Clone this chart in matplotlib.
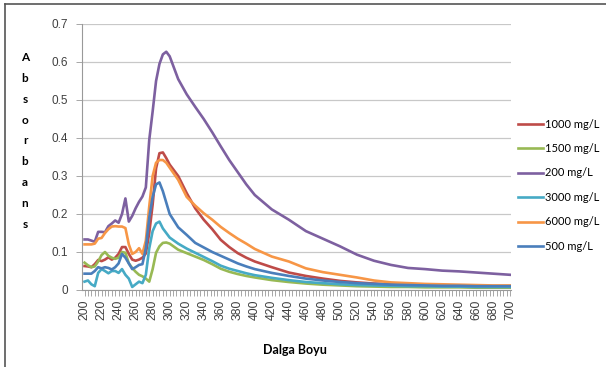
import matplotlib
matplotlib.use("Agg")
import matplotlib.pyplot as plt
from matplotlib.ticker import MultipleLocator
from matplotlib.lines import Line2D

# -----------------------------
# Data
# -----------------------------
wavelength = [200, 204, 208, 212, 216, 220, 224, 228, 232, 236, 240, 244, 248,
              252, 256, 260, 264, 268, 272, 276, 280, 284, 288, 292, 296, 300,
              310, 320, 330, 340, 350, 360, 370, 380, 390, 400,
              420, 440, 460, 480, 500, 520, 540, 560, 580, 600, 620, 640, 660, 680, 700]

c1000 = [0.063, 0.062, 0.060, 0.068, 0.079, 0.076, 0.080, 0.086, 0.080, 0.085, 0.095, 0.113, 0.113,
         0.095, 0.080, 0.077, 0.080, 0.085, 0.096, 0.150, 0.225, 0.320, 0.360, 0.362, 0.347, 0.330,
         0.300, 0.255, 0.215, 0.185, 0.160, 0.132, 0.113, 0.097, 0.085, 0.075,
         0.060, 0.046, 0.037, 0.030, 0.024, 0.020, 0.017, 0.015, 0.013, 0.012, 0.011, 0.011, 0.010, 0.010, 0.010]

c1500 = [0.072, 0.065, 0.060, 0.062, 0.075, 0.092, 0.100, 0.090, 0.085, 0.082, 0.085, 0.100, 0.098,
         0.070, 0.058, 0.048, 0.040, 0.036, 0.030, 0.022, 0.055, 0.098, 0.115, 0.124, 0.125, 0.122,
         0.106, 0.097, 0.088, 0.079, 0.068, 0.056, 0.048, 0.042, 0.037, 0.033,
         0.026, 0.021, 0.017, 0.014, 0.012, 0.010, 0.009, 0.008, 0.008, 0.007, 0.007, 0.007, 0.006, 0.006, 0.006]

c200 = [0.133, 0.133, 0.130, 0.127, 0.153, 0.153, 0.152, 0.168, 0.175, 0.183, 0.177, 0.200, 0.241,
        0.180, 0.195, 0.215, 0.232, 0.246, 0.270, 0.395, 0.470, 0.550, 0.595, 0.620, 0.627, 0.615,
        0.555, 0.515, 0.482, 0.450, 0.415, 0.378, 0.342, 0.310, 0.278, 0.250,
        0.212, 0.185, 0.155, 0.135, 0.115, 0.093, 0.077, 0.066, 0.058, 0.055, 0.051, 0.049, 0.046, 0.043, 0.040]

c3000 = [0.022, 0.025, 0.015, 0.010, 0.045, 0.055, 0.050, 0.044, 0.050, 0.050, 0.045, 0.055, 0.040,
         0.030, 0.008, 0.015, 0.022, 0.018, 0.040, 0.110, 0.155, 0.175, 0.180, 0.162, 0.150, 0.138,
         0.122, 0.109, 0.098, 0.087, 0.076, 0.064, 0.056, 0.050, 0.044, 0.039,
         0.032, 0.026, 0.021, 0.018, 0.015, 0.013, 0.012, 0.011, 0.010, 0.010, 0.009, 0.009, 0.008, 0.008, 0.008]

c6000 = [0.120, 0.120, 0.120, 0.122, 0.135, 0.137, 0.150, 0.160, 0.167, 0.168, 0.167, 0.167, 0.163,
         0.120, 0.095, 0.100, 0.110, 0.095, 0.130, 0.220, 0.300, 0.335, 0.342, 0.342, 0.335, 0.322,
         0.290, 0.245, 0.222, 0.202, 0.185, 0.166, 0.150, 0.135, 0.122, 0.108,
         0.088, 0.075, 0.057, 0.047, 0.040, 0.033, 0.025, 0.020, 0.018, 0.016, 0.015, 0.014, 0.013, 0.012, 0.012]

c500 = [0.043, 0.043, 0.043, 0.050, 0.060, 0.057, 0.060, 0.058, 0.054, 0.060, 0.070, 0.095, 0.085,
        0.070, 0.055, 0.060, 0.066, 0.068, 0.110, 0.190, 0.245, 0.278, 0.283, 0.260, 0.230, 0.200,
        0.165, 0.145, 0.124, 0.112, 0.100, 0.090, 0.080, 0.070, 0.062, 0.055,
        0.045, 0.037, 0.030, 0.025, 0.021, 0.018, 0.016, 0.014, 0.013, 0.012, 0.011, 0.011, 0.010, 0.010, 0.010]

series_labels = ["1000 mg/L", "1500 mg/L", "200 mg/L", "3000 mg/L", "6000 mg/L", "500 mg/L"]
series_values = [c1000, c1500, c200, c3000, c6000, c500]
series_colors = ["#BE4B48", "#98B954", "#7D60A0", "#46AAC5", "#F79646", "#4A7EBB"]

x_major = list(range(200, 701, 20))
y_major = [0, 0.1, 0.2, 0.3, 0.4, 0.5, 0.6, 0.7]

W, H = 606, 367

# -----------------------------
# Figure
# -----------------------------
fig = plt.figure(figsize=(W / 100, H / 100), dpi=100)
ax = fig.add_axes([82 / W, 1 - 290 / H, (511 - 82) / W, (290 - 24) / H])

for vals, lab, col in zip(series_values, series_labels, series_colors):
    ax.plot(wavelength, vals, color=col, lw=1.9, label=lab, solid_joinstyle="round")

ax.set_xlim(197, 701)
ax.set_ylim(0, 0.7)
ax.set_xticks(x_major)
ax.set_xticklabels([str(v) for v in x_major], rotation=90,
                   fontsize=8.8, color="#404040", family="Liberation Sans")
ax.xaxis.set_minor_locator(MultipleLocator(4))
ax.set_yticks(y_major)
ax.set_yticklabels(["0", "0.1", "0.2", "0.3", "0.4", "0.5", "0.6", "0.7"],
                   fontsize=8.5, color="#404040", family="Liberation Sans")
ax.tick_params(axis="x", which="both", length=4, width=0.6, color="#999999", direction="out", pad=3)
ax.tick_params(axis="y", length=4, width=0.6, color="#999999", pad=6)

ax.yaxis.grid(True, color="#C8C8C8", lw=0.9)
ax.set_axisbelow(True)
for s in ["top", "right"]:
    ax.spines[s].set_visible(False)
for s in ["left", "bottom"]:
    ax.spines[s].set_color("#999999")
    ax.spines[s].set_linewidth(0.8)

# axis titles
fig.text(295 / W, 1 - 350 / H, "Dalga Boyu", ha="center", va="center",
         fontsize=9, fontweight="bold", family="Lato")
ylab = "\n".join("Absorbans")
fig.text(25 / W, 1 - 141 / H, ylab, ha="center", va="center",
         fontsize=8.5, fontweight="bold", family="Lato", linespacing=2.1)

# legend, drawn entry by entry to match the original spacing
for i, (lab, col) in enumerate(zip(series_labels, series_colors)):
    yy = 1 - (124 + i * 24.4) / H
    fig.add_artist(Line2D([518 / W, 543 / W], [yy, yy], transform=fig.transFigure,
                          color=col, lw=1.9))
    fig.text(545 / W, yy, lab, ha="left", va="center", fontsize=8, family="Lato")

# outer frame (top and left edges only)
fig.add_artist(Line2D([5 / W, 1], [1 - 4 / H, 1 - 4 / H], transform=fig.transFigure,
                      color="#555555", lw=1.2))
fig.add_artist(Line2D([5 / W, 5 / W], [0, 1 - 4 / H], transform=fig.transFigure,
                      color="#555555", lw=1.2))

fig.savefig("out.png", dpi=100)
plt.close(fig)
